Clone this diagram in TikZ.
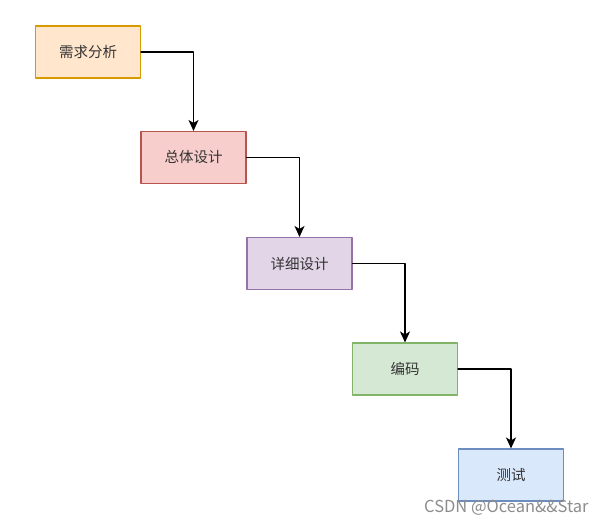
\documentclass[tikz,border=0pt]{standalone}
\usepackage{fontspec}
\setmainfont{Noto Sans CJK SC}
\usetikzlibrary{arrows.meta}
\definecolor{orangef}{HTML}{FFE6CC}\definecolor{oranged}{HTML}{D79B00}
\definecolor{redf}{HTML}{F8CECC}\definecolor{redd}{HTML}{B85450}
\definecolor{purplef}{HTML}{E1D5E7}\definecolor{purpled}{HTML}{9673A6}
\definecolor{greenf}{HTML}{D5E8D4}\definecolor{greend}{HTML}{82B366}
\definecolor{bluef}{HTML}{DAE8FC}\definecolor{blued}{HTML}{6C8EBF}
\tikzset{
  phase/.style={draw,line width=1.1pt,minimum width=105pt,minimum height=52pt,inner sep=0pt,
    text=black!80,font=\fontsize{14.5}{16}\selectfont},
  flow/.style={-{Stealth[length=11pt,width=10pt,inset=3pt]},line width=1.3pt,black}
}
\begin{document}
\begin{tikzpicture}[line cap=round,line join=round,x=1pt,y=-1pt]
        \useasboundingbox (0,0) rectangle (604,522);
        \node[phase,fill=orangef,draw=oranged] (req) at (88,52) {需求分析};
        \node[phase,fill=redf,draw=redd] (arch) at (193.5,157.5) {总体设计};
        \node[phase,fill=purplef,draw=purpled] (detail) at (299.5,263.5) {详细设计};
        \node[phase,fill=greenf,draw=greend] (code) at (405,369) {编码};
        \node[phase,fill=bluef,draw=blued] (test) at (511,475) {测试};
        \draw[flow] (req.east) -| (arch.north);
        \draw[flow] (arch.east) -| (detail.north);
        \draw[flow] (detail.east) -| (code.north);
        \draw[flow] (code.east) -| (test.north);
        \node[anchor=base west,inner sep=0pt,text=black!45,font=\fontsize{16.5}{18}\selectfont] (mark) at (424,512) {CSDN @Ocean\&\&Star};
      \end{tikzpicture}
\end{document}
